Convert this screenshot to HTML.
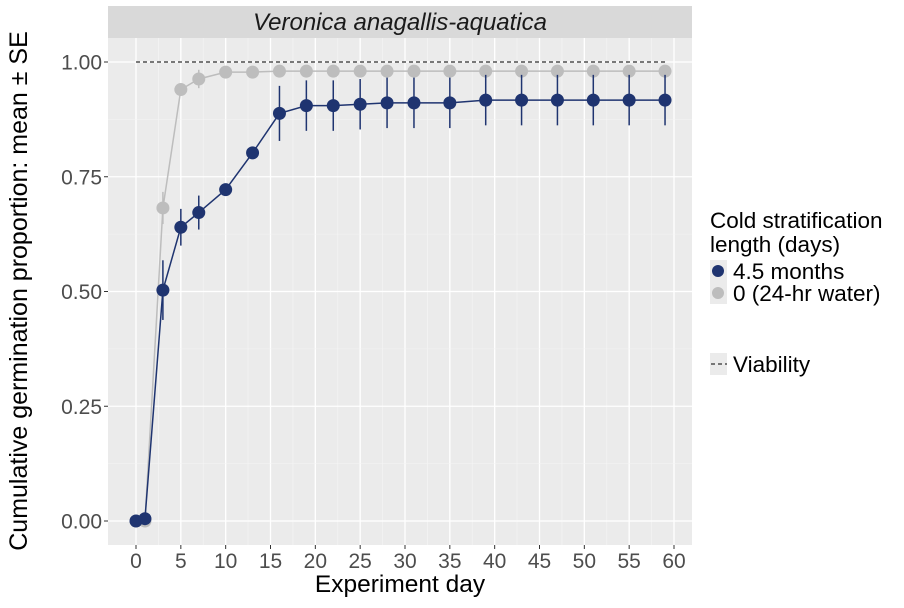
<!DOCTYPE html>
<html><head><meta charset="utf-8"><style>
body{margin:0;background:#fff;font-family:"Liberation Sans",sans-serif}
svg text{font-family:"Liberation Sans",sans-serif}
</style></head><body>
<svg id="chart" width="904" height="603" xmlns="http://www.w3.org/2000/svg">
<rect x="108" y="6" width="584" height="32" fill="#d9d9d9"/>
<text x="400" y="30" font-size="24" font-style="italic" text-anchor="middle" fill="#1a1a1a">Veronica anagallis-aquatica</text>
<rect x="108" y="38" width="584" height="507" fill="#ebebeb"/>
<g id="grid"></g>
<g id="marks"></g>
<g id="axes"></g>
<text x="400" y="592" font-size="24.5" text-anchor="middle" fill="#000">Experiment day</text>
<text transform="translate(27,291) rotate(-90)" font-size="25" text-anchor="middle" fill="#000">Cumulative germination proportion: mean ± SE</text>
<g>
<text x="710" y="228" font-size="22.5" fill="#000">Cold stratification</text>
<text x="710" y="252" font-size="22.5" fill="#000">length (days)</text>
<rect x="710" y="260" width="17" height="22" fill="#ebebeb"/>
<circle cx="718" cy="271" r="6" fill="#1f3470"/>
<text x="733" y="279" font-size="22.5" fill="#000">4.5 months</text>
<rect x="710" y="282" width="17" height="22" fill="#ebebeb"/>
<circle cx="718" cy="293" r="6" fill="#bdbdbd"/>
<text x="733" y="301" font-size="22.5" fill="#000">0 (24-hr water)</text>
<rect x="710" y="353" width="17" height="22" fill="#ebebeb"/>
<line x1="711" y1="364" x2="727" y2="364" stroke="#000" stroke-dasharray="4,3"/>
<text x="733" y="372" font-size="22.5" fill="#000">Viability</text>
</g>
</svg>
<script>
const days=[0,1,3,5,7,10,13,16,19,22,25,28,31,35,39,43,47,51,55,59];
const navyMean=[0,0.005,0.503,0.64,0.672,0.722,0.802,0.888,0.905,0.905,0.908,0.911,0.911,0.911,0.917,0.917,0.917,0.917,0.917,0.917];
const navySE=[0,0.005,0.065,0.04,0.037,0.01,0.012,0.06,0.055,0.055,0.055,0.055,0.055,0.055,0.055,0.055,0.055,0.055,0.055,0.055];
const grayMean=[0,0,0.682,0.94,0.963,0.978,0.978,0.98,0.98,0.98,0.98,0.98,0.98,0.98,0.98,0.98,0.98,0.98,0.98,0.98];
const graySE=[0,0,0.035,0.01,0.02,0.005,0.005,0.004,0.004,0.004,0.004,0.004,0.004,0.004,0.004,0.004,0.004,0.004,0.004,0.004];
const viability=1.0;
const xTicks=[0,5,10,15,20,25,30,35,40,45,50,55,60];
const yTicks=[0,0.25,0.5,0.75,1.0];
const yLabels=["0.00","0.25","0.50","0.75","1.00"];
const NS="http://www.w3.org/2000/svg";
const X=d=>136+d*(674-136)/60;
const Y=v=>521-v*459;
function mk(tag,attrs,parent){const e=document.createElementNS(NS,tag);for(const k in attrs)e.setAttribute(k,attrs[k]);document.getElementById(parent).appendChild(e);return e;}
for(let i=0;i<xTicks.length;i++){
 const l=mk('line',{x1:X(xTicks[i]),x2:X(xTicks[i]),y1:38,y2:545,stroke:'#fff','stroke-width':1.3},'grid');
 
 
 if(i<xTicks.length-1){const m=mk('line',{x1:X(xTicks[i]+2.5),x2:X(xTicks[i]+2.5),y1:38,y2:545,stroke:'#f5f5f5','stroke-width':0.6},'grid');
 
 }
 const t=mk('text',{x:X(xTicks[i]),y:568,'font-size':21,'text-anchor':'middle',fill:'#4d4d4d'},'axes');t.textContent=xTicks[i];
 
 
 mk('line',{x1:X(xTicks[i]),x2:X(xTicks[i]),y1:545,y2:549,stroke:'#333'},'axes');
}
for(let i=0;i<yTicks.length;i++){
 const l=mk('line',{x1:108,x2:692,y1:Y(yTicks[i]),y2:Y(yTicks[i]),stroke:'#fff','stroke-width':1.3},'grid');
 
 
 if(i<yTicks.length-1){const m=mk('line',{x1:108,x2:692,y1:Y(yTicks[i]+0.125),y2:Y(yTicks[i]+0.125),stroke:'#f5f5f5','stroke-width':0.6},'grid');
 
 }
 const t=mk('text',{x:102,y:Y(yTicks[i])+7.5,'font-size':21,'text-anchor':'end',fill:'#4d4d4d'},'axes');t.textContent=yLabels[i];
 
 
 mk('line',{x1:104,x2:108,y1:Y(yTicks[i]),y2:Y(yTicks[i]),stroke:'#333'},'axes');
}
const v=mk('line',{x1:X(0),x2:X(59),y1:Y(viability),y2:Y(viability),stroke:'#000','stroke-dasharray':'4,3','stroke-width':1},'marks');


function series(mean,se,color,name){
 const p=mk('polyline',{points:days.map((d,i)=>X(d)+','+Y(mean[i])).join(' '),fill:'none',stroke:color,'stroke-width':1.5},'marks');
 
 
 days.forEach((d,i)=>{
  const e=mk('line',{x1:X(d),x2:X(d),y1:Y(mean[i]-se[i]),y2:Y(mean[i]+se[i]),stroke:color,'stroke-width':1.5},'marks');
  
  
  const c=mk('circle',{cx:X(d),cy:Y(mean[i]),r:6.5,fill:color},'marks');
  
  
 });
}
series(grayMean,graySE,'#bdbdbd','gray-series');
series(navyMean,navySE,'#1f3470','navy-series');
</script>
</body></html>
